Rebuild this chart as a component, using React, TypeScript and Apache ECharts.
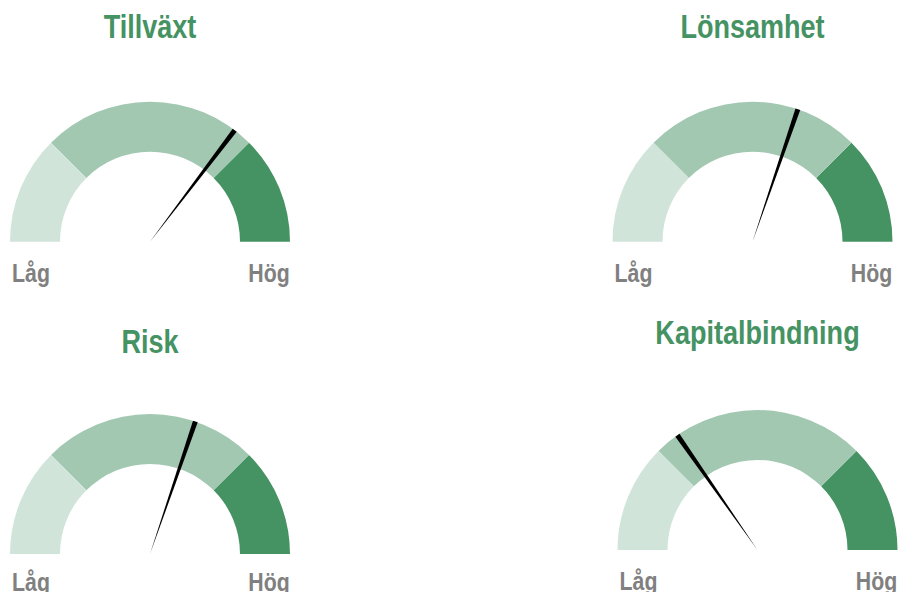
import React, { useEffect, useRef } from "react";
import * as echarts from "echarts";

const titles = ["Tillväxt", "Lönsamhet", "Risk", "Kapitalbindning"];
const values = [70.7, 60.5, 60.5, 30.6];
const lowLabel = "Låg";
const highLabel = "Hög";
const bandStops = [0.25, 0.75, 1];
const bandColors = ["#d1e4da", "#a2c8b2", "#459263"];

const centers: [number, number][] = [
  [150, 241.7],
  [752.5, 241.7],
  [150, 554],
  [757.5, 550],
];
const titleY = [26.5, 26.5, 341.5, 332.5];
const labelY = [272.5, 272.5, 582, 581];

export default function App() {
  const ref = useRef<HTMLDivElement>(null);
  useEffect(() => {
    if (!ref.current) return;
    const chart = echarts.init(ref.current, null, { renderer: "svg" });
    const series = values.map((v, i) => ({
      type: "gauge",
      center: centers[i],
      radius: 140,
      startAngle: 180,
      endAngle: 0,
      min: 0,
      max: 100,
      axisLine: {
        lineStyle: {
          width: 50,
          color: bandStops.map((s, k) => [s, bandColors[k]]),
        },
      },
      axisTick: { show: false },
      splitLine: { show: false },
      axisLabel: { show: false },
      anchor: { show: false },
      title: { show: false },
      detail: { show: false },
      pointer: {
        icon: "path://M0,0 L10,0 L5,100 Z",
        width: 5,
        length: 140,
        itemStyle: { color: "#000000" },
      },
      data: [{ value: v, name: titles[i] }],
    }));
    const graphics: any[] = [];
    titles.forEach((t, i) => {
      graphics.push({
        type: "text",
        x: centers[i][0],
        y: titleY[i],
        scaleX: 0.82,
        style: {
          text: t,
          x: 0,
          y: 0,
          fill: "#459263",
          font: 'bold 33px "Liberation Sans", Arial, sans-serif',
          textAlign: "center",
          textVerticalAlign: "middle",
        },
      });
      graphics.push({
        type: "text",
        x: centers[i][0] - 119,
        y: labelY[i],
        scaleX: 0.82,
        style: {
          text: lowLabel,
          x: 0,
          y: 0,
          fill: "#808080",
          font: 'bold 26px "Liberation Sans", Arial, sans-serif',
          textAlign: "center",
          textVerticalAlign: "middle",
        },
      });
      graphics.push({
        type: "text",
        x: centers[i][0] + 119,
        y: labelY[i],
        scaleX: 0.82,
        style: {
          text: highLabel,
          x: 0,
          y: 0,
          fill: "#808080",
          font: 'bold 26px "Liberation Sans", Arial, sans-serif',
          textAlign: "center",
          textVerticalAlign: "middle",
        },
      });
    });
    chart.setOption({
      animation: false,
      backgroundColor: "#ffffff",
      series,
      graphic: graphics,
    });
    return () => chart.dispose();
  }, []);
  return (
    <div
      ref={ref}
      style={{ position: "fixed", left: 0, top: 0, width: 899, height: 592 }}
    />
  );
}
